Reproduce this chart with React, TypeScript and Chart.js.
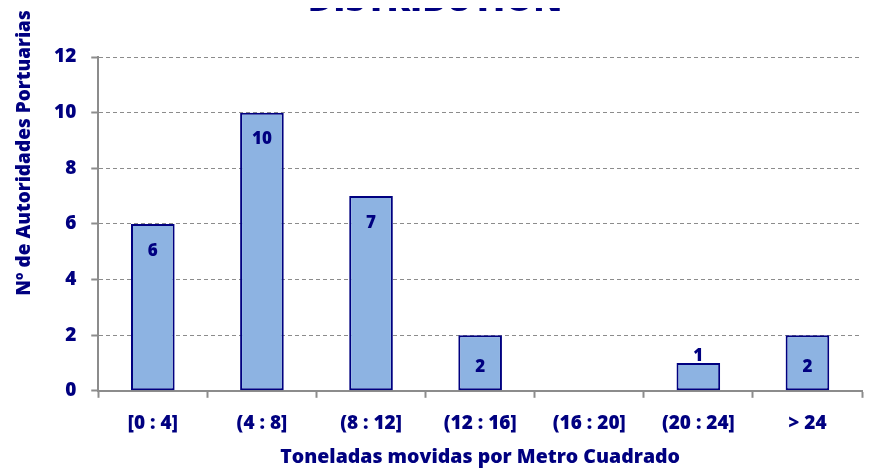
import React, { useEffect, useRef } from 'react';
import { Chart, registerables } from 'chart.js';

Chart.register(...registerables);

const categories = ['[0 : 4]', '(4 : 8]', '(8 : 12]', '(12 : 16]', '(16 : 20]', '(20 : 24]', '> 24'];
const counts = [6, 10, 7, 2, 0, 1, 2];
const yMin = 0;
const yMax = 12;
const yStep = 2;
const chartTitle = 'DISTRIBUTION';
const xTitle = 'Toneladas movidas por Metro Cuadrado';
const yTitle = 'Nº de Autoridades Portuarias';

const NAVY = '#000080';
const FONT = '"Open Sans", "Noto Sans", sans-serif';
const W = 800;

const yTitlePlugin = {
  id: 'yTitleFree',
  afterDraw(chart: any) {
    const ctx = chart.ctx;
    ctx.save();
    ctx.translate(17, 145);
    ctx.rotate(-Math.PI / 2);
    ctx.font = `${W} 19px ${FONT}`;
    ctx.fillStyle = NAVY;
    ctx.textAlign = 'center';
    ctx.textBaseline = 'middle';
    ctx.fillText(yTitle, 0, 0);
    ctx.restore();
  },
};

const labelPlugin = {
  id: 'barValueLabels',
  afterDatasetsDraw(chart: any) {
    const ctx = chart.ctx;
    const meta = chart.getDatasetMeta(0);
    ctx.save();
    ctx.font = `${W} 17px ${FONT}`;
    ctx.fillStyle = NAVY;
    ctx.textAlign = 'center';
    ctx.textBaseline = 'middle';
    meta.data.forEach((bar: any, i: number) => {
      const v = counts[i];
      if (!v) return;
      const h = bar.base - bar.y;
      let y;
      if (h > 60) y = bar.y + 27;
      else if (h > 40) y = (bar.y + bar.base) / 2 + 4;
      else y = bar.y - 7;
      ctx.fillText(String(v), bar.x, y);
    });
    ctx.restore();
  },
};

export default function App() {
  const ref = useRef<HTMLCanvasElement>(null);
  useEffect(() => {
    if (!ref.current) return;
    const chart = new Chart(ref.current, {
      type: 'bar',
      data: {
        labels: categories,
        datasets: [
          {
            data: counts,
            backgroundColor: '#8DB3E2',
            borderColor: NAVY,
            borderWidth: 2,
            borderSkipped: false,
            barPercentage: 0.4,
            categoryPercentage: 1,
          },
        ],
      },
      options: {
        responsive: false,
        animation: false,
        layout: { padding: { left: 0, right: 3, top: 0, bottom: 0 } },
        plugins: {
          legend: { display: false },
          tooltip: { enabled: false },
          title: {
            display: true,
            text: chartTitle,
            color: NAVY,
            font: { family: FONT, size: 35, weight: W },
            padding: { top: -28, bottom: 35 },
          },
        },
        scales: {
          x: {
            offset: true,
            grid: {
              display: true,
              offset: true,
              drawOnChartArea: false,
              drawTicks: true,
              tickLength: 7,
              tickColor: '#8c8c8c',
              tickWidth: 2,
            },
            border: { display: true, color: '#8c8c8c', width: 2 },
            ticks: {
              color: NAVY,
              font: { family: FONT, size: 19, weight: W },
              padding: 14,
              maxRotation: 0,
              autoSkip: false,
            },
            title: {
              display: true,
              text: xTitle,
              color: NAVY,
              font: { family: FONT, size: 19.5, weight: W },
              padding: { top: -3, bottom: 0 },
            },
          },
          y: {
            min: yMin,
            max: yMax,
            afterFit: (scale: any) => {
              scale.width += 31;
            },
            grid: {
              color: '#8c8c8c',
              lineWidth: 1,
              drawTicks: true,
              tickLength: 7,
              tickColor: '#8c8c8c',
              tickWidth: 2,
              tickBorderDash: [],
            },
            border: { display: true, color: '#8c8c8c', width: 2, dash: [4, 3] },
            ticks: {
              stepSize: yStep,
              color: NAVY,
              font: { family: FONT, size: 19, weight: W },
              padding: 15,
            },
          },
        },
      },
      plugins: [labelPlugin, yTitlePlugin],
    });
    return () => chart.destroy();
  }, []);
  return (
    <div style={{ width: 857, height: 461 }}>
      <canvas ref={ref} width={857} height={461} />
    </div>
  );
}
